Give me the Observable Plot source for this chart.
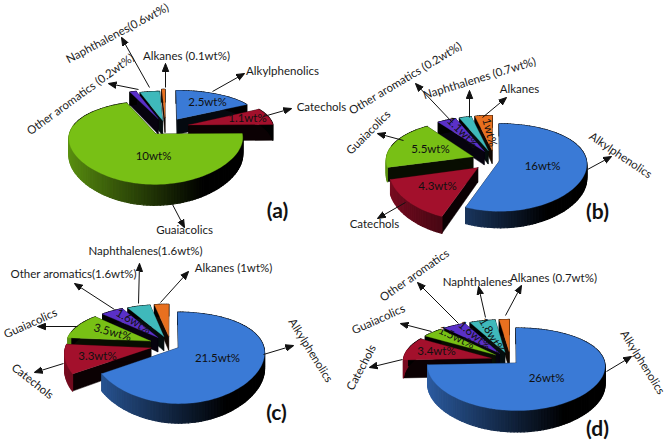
<!DOCTYPE html>
<html>
<head>
<meta charset="utf-8">
<script src="https://cdn.jsdelivr.net/npm/d3@7"></script>
<script src="https://cdn.jsdelivr.net/npm/@observablehq/plot@0.6"></script>
<style>html,body{margin:0;padding:0;background:#fff}svg{display:block}</style>
</head>
<body>
<div id="chart"></div>
<script>
// Slice order: clockwise from 12 o'clock
const categories = ["Alkylphenolics","Catechols","Guaiacolics","Other aromatics","Naphthalenes","Alkanes"];
const colors = ["#3a7ad6","#a3102c","#78c015","#5a30c8","#3fb9bb","#e8701f"];
const valuesA = [2.5,1.1,10,0.2,0.6,0.1];
const valuesB = [16,4.3,5.5,1.1,0.7,1];
const valuesC = [21.5,3.3,3.5,1.6,1.6,1];
const valuesD = [26,3.4,1.5,1.6,1.8,0.7];

// Pie layouts: projection parameters and how far each slice is pulled out
const layouts = [
  {name:"a",values:valuesA,cx:165,cy:127,R:85,k:0.44,q:0.2,d:16,explode:[23,24,17,22,17,24]},
  {name:"b",values:valuesB,cx:494,cy:160,R:87,k:0.49,q:0.15,d:14,explode:[5,22,23,22,22,22]},
  {name:"c",values:valuesC,cx:170,cy:345,R:85,k:0.5,q:0.22,d:15,explode:[9,20,22,21,20,20]},
  {name:"d",values:valuesD,cx:510,cy:360,R:88,k:0.45,q:0.15,d:18,explode:[8,20,20,20,20,20]}
];

// Text labels [text, x, y, rotate]
const labels = [
  ["Naphthalenes(0.6wt%)",117,33,-28],["Alkanes (0.1wt%)",186,56,0],["Alkylphenolics",282,71,0],
  ["Catechols",321,107,0],["Other aromatics (0.2wt%)",80,94,-36],["Guaiacolics",184,230,0],
  ["Other aromatics (0.2wt%)",405,78,-31],["Naphthalenes (0.7wt%)",479,78,-17],["Alkanes",519,89,0],
  ["Guaiacolics",368,132,-45],["Alkylphenolics",620,155,34],["Catechols",374,224,0],
  ["Naphthalenes(1.6wt%)",145,251,0],["Other aromatics(1.6wt%)",73,274,0],["Alkanes (1wt%)",233,268,0],
  ["Guaiacolics",30,323,-24],["Catechols",32,381,38],["Alkylphenolics",310,350,58],
  ["Other aromatics",414,275,-35],["Naphthalenes",477,282,0],["Alkanes (0.7wt%)",553,278,0],
  ["Guaiacolics",378,319,-24],["Catechols",361,367,-62],["Alkylphenolics",642,362,58]
];
const sliceLabels = [
  ["2.5wt%",207,102,0],["1.1wt%",247,118,0],["10wt%",153,156,0],
  ["5.5wt%",430,149,0],["4.3wt%",437,186,0],["16wt%",542,166,0],["1.1wt%",462,132,45],["1wt%",489,132,75],
  ["3.5wt%",112,332,15],["3.3wt%",97,356,0],["21.5wt%",217,358,0],["1.6wt%",133,321,30],
  ["3.4wt%",436,351,0],["1.5wt%",456,337,25],["1.6wt%",474,335,40],["1.8wt%",491,335,60],["26wt%",546,378,0]
];
const panelTags = [["(a)",277,211],["(b)",597,212],["(c)",276,413],["(d)",597,429]];

// Leader arrows [x1,y1,x2,y2]
const arrows = [
  [212,91,244,73],[263,116,291,108],[165,87,165,63],[149,87,121,37],[138,89,108,83],[172,204,184,227],
  [452,122,415,83],[469,117,469,90],[482,117,506,97],[403,140,377,133],[587,169,611,156],[405,202,377,218],
  [138,303,139,263],[114,309,74,283],[160,302,188,271],[77,326,37,326],[63,363,34,372],[263,354,293,345],
  [458,323,417,282],[485,317,478,286],[505,315,521,285],[431,331,400,323],[402,359,369,367],[606,371,631,356]
];

// Turn each pie's values into projected polygons
const polys = [];
let pid = 0;
function addPoly(points, color, sw){
  const id = pid++;
  for (const p of [...points, points[0]]) polys.push({id, x:p[0], y:p[1], color, sw});
}
for (const L of layouts){
  const total = d3.sum(L.values);
  const p = L.q / L.R;
  let acc = 0;
  const slices = L.values.map((v,i)=>{
    const a0 = acc/total*2*Math.PI; acc += v;
    const a1 = acc/total*2*Math.PI;
    return {i,a0,a1,m:(a0+a1)/2,E:L.explode[i]};
  });
  slices.sort((s,t)=>Math.cos(t.m)-Math.cos(s.m));
  for (const s of slices){
    const ox = s.E*Math.sin(s.m), oy = s.E*Math.cos(s.m);
    const proj = (X,Y,Z)=>{const f=1/(1+p*Y), g=1/(1+0.5*p*Y);return [L.cx+X*g, L.cy-Y*L.k*f+Z*f];};
    const pt = (a,r,Z)=>proj(ox+r*Math.sin(a), oy+r*Math.cos(a), Z);
    const n = Math.max(2,Math.ceil((s.a1-s.a0)/(Math.PI/90)));
    const angs = d3.range(n+1).map(j=>s.a0+(s.a1-s.a0)*j/n);
    const col = colors[s.i];
    const cut = d3.interpolateRgb(col,"#000")(0.93);
    // cut faces
    for (const a of [s.a0,s.a1]){
      addPoly([pt(a,0,0),pt(a,L.R,0),pt(a,L.R,L.d),pt(a,0,L.d)],cut,0.5);
    }
    // outer wall, shaded left to right
    for (let j=0;j<n;j++){
      const a=angs[j], b=angs[j+1], m=(a+b)/2;
      const t=Math.min(1,((Math.sin(m)+1)/2)/0.75);
      const wall=d3.interpolateRgb(d3.interpolateRgb(col,"#000")(0.25),"#000")(t);
      const c = Math.cos(m)<0.25 ? wall : "#000";
      addPoly([pt(a,L.R,0),pt(b,L.R,0),pt(b,L.R,L.d),pt(a,L.R,L.d)],c,1.2);
    }
    // top
    addPoly([pt(0,0,0),...angs.map(a=>pt(a,L.R,0))],col,0.3);
  }
}

const font = "Lato, 'Open Sans', sans-serif";
const headMarker = (color) => {
  const m = d3.create("svg:marker")
    .attr("viewBox","-8 -4 9 8").attr("markerWidth",9).attr("markerHeight",8)
    .attr("markerUnits","userSpaceOnUse").attr("orient","auto").attr("refX",0).attr("refY",0);
  m.append("path").attr("d","M-8,-3.2L0,0L-8,3.2Z").attr("fill","#111");
  return m.node();
};

const chart = Plot.plot({
  width:667, height:441, margin:0,
  x:{domain:[0,667],range:[0,667],axis:null},
  y:{domain:[0,441],range:[0,441],axis:null},
  color:{type:"identity"},
  style:{background:"#fff",fontFamily:font},
  marks:[
    Plot.line(polys,{x:"x",y:"y",z:"id",fill:"color",stroke:"color",strokeWidth:"sw"}),
    Plot.link(arrows,{x1:d=>d[0],y1:d=>d[1],x2:d=>d[2],y2:d=>d[3],stroke:"#111",strokeWidth:1,markerEnd:headMarker}),
    Plot.text(sliceLabels,{x:d=>d[1],y:d=>d[2],text:d=>d[0],rotate:d=>d[3],fontSize:11.5,fill:"#101010",fontFamily:font}),
    Plot.text(labels,{x:d=>d[1],y:d=>d[2],text:d=>d[0],rotate:d=>d[3],fontSize:11.5,fill:"#1a1a1a",fontFamily:font}),
    Plot.text(panelTags,{x:d=>d[1],y:d=>d[2],text:d=>d[0],fontSize:21,fontWeight:"bold",fill:"#111",fontFamily:font})
  ]
});
document.getElementById("chart").appendChild(chart);
</script>
</body>
</html>
